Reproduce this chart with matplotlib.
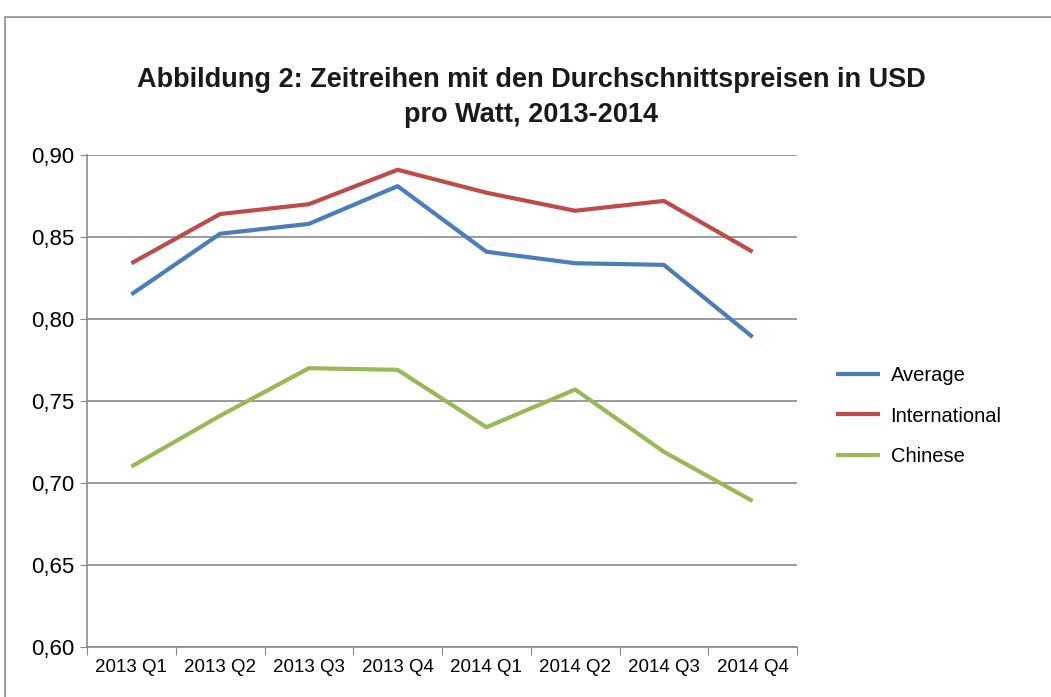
import matplotlib
matplotlib.use('Agg')
import matplotlib.pyplot as plt
from matplotlib.patches import Rectangle
from matplotlib.ticker import FuncFormatter, MultipleLocator

quarters = ['2013 Q1', '2013 Q2', '2013 Q3', '2013 Q4',
            '2014 Q1', '2014 Q2', '2014 Q3', '2014 Q4']
average = [0.815, 0.852, 0.858, 0.881, 0.841, 0.834, 0.833, 0.789]
international = [0.834, 0.864, 0.870, 0.891, 0.877, 0.866, 0.872, 0.841]
chinese = [0.710, 0.741, 0.770, 0.769, 0.734, 0.757, 0.719, 0.689]

series = [('Average', average, '#4a7ebb'),
          ('International', international, '#be4b48'),
          ('Chinese', chinese, '#98b954')]

plt.rcParams['font.family'] = ['Liberation Sans', 'DejaVu Sans']

fig = plt.figure(figsize=(10.51, 6.97), dpi=100)
fig.patch.set_facecolor('white')

# chart frame (Excel style)
fig.add_artist(Rectangle((5 / 1051, -0.1), 1.2, 1 - 17 / 697 + 0.1,
                         transform=fig.transFigure, fill=False,
                         edgecolor='#8c8c8c', linewidth=1.2))

ax = fig.add_axes([87 / 1051, 1 - 647 / 697, 710 / 1051, 492 / 697])
x = list(range(len(quarters)))
for name, vals, col in series:
    ax.plot(x, vals, color=col, linewidth=3, label=name, solid_capstyle='butt')

ax.set_xlim(-0.5, len(quarters) - 0.5)
ax.set_ylim(0.60, 0.90)
ax.yaxis.set_major_locator(MultipleLocator(0.05))
ax.yaxis.set_major_formatter(FuncFormatter(lambda v, p: f'{v:.2f}'.replace('.', ',')))
ax.grid(axis='y', color='#8a8a8a', linewidth=1.2)
ax.set_axisbelow(True)

ax.set_xticks([i + 0.5 for i in range(-1, len(quarters))], minor=False)
ax.set_xticklabels([])
ax.set_xticks(x, minor=True)
ax.set_xticklabels(quarters, minor=True)
ax.tick_params(axis='x', which='minor', length=0, pad=9, labelsize=13.5)
ax.tick_params(axis='x', which='major', length=6, color='#8a8a8a', direction='out')
ax.tick_params(axis='y', length=5, color='#8a8a8a', labelsize=16, pad=4)

for s in ['top', 'right']:
    ax.spines[s].set_visible(False)
ax.spines['left'].set_color('#8a8a8a')
ax.spines['bottom'].set_color('#8a8a8a')
ax.spines['left'].set_linewidth(1.2)
ax.spines['bottom'].set_linewidth(1.2)

fig.text(531 / 1051, 1 - 97.5 / 697,
         'Abbildung 2: Zeitreihen mit den Durchschnittspreisen in USD\npro Watt, 2013-2014',
         ha='center', va='center', fontsize=19.5, fontweight='bold',
         linespacing=1.45, color='#1a1a1a')

leg = fig.legend(loc='center left', bbox_to_anchor=(818 / 1051, 1 - 416 / 697),
                 frameon=False, fontsize=14.5, handlelength=2.2,
                 labelspacing=1.08, handletextpad=0.5)

plt.savefig('out.png', dpi=100)
